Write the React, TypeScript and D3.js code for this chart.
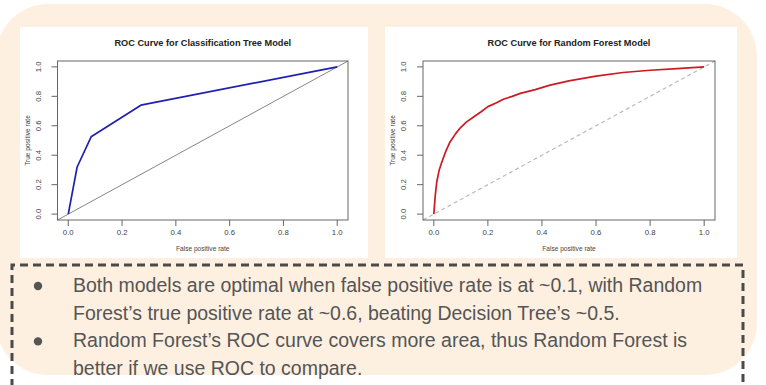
import * as d3 from "d3";

// ROC curve points
const treeFpr = [0, 0.033, 0.085, 0.27, 1.0];
const treeTpr = [0, 0.32, 0.525, 0.74, 1.0];

const forestFpr = [0, 0.005, 0.011, 0.02, 0.03, 0.045, 0.06, 0.08, 0.098, 0.12, 0.147, 0.175, 0.2, 0.23, 0.257, 0.29, 0.32, 0.375, 0.43, 0.5, 0.6, 0.7, 0.8, 0.9, 1.0];
const forestTpr = [0, 0.12, 0.22, 0.3, 0.355, 0.43, 0.49, 0.545, 0.586, 0.625, 0.66, 0.695, 0.73, 0.755, 0.78, 0.8, 0.82, 0.846, 0.876, 0.905, 0.937, 0.962, 0.977, 0.988, 1.0];

const axisTicks = [0, 0.2, 0.4, 0.6, 0.8, 1.0];

const titles = ["ROC Curve for Classification Tree Model", "ROC Curve for Random Forest Model"];
const xLabel = "False positive rate";
const yLabel = "True positive rate";

const bullets = [
  ["Both models are optimal when false positive rate is at ~0.1, with Random", "Forest\u2019s true positive rate at ~0.6, beating Decision Tree\u2019s ~0.5."],
  ["Random Forest\u2019s ROC curve covers more area, thus Random Forest is", "better if we use ROC to compare."],
];

const FONT = "'Liberation Sans', Arial, sans-serif";

type Props = {
  left: number;
  right: number;
  title: string;
  fpr: number[];
  tpr: number[];
  color: string;
  dashedDiag: boolean;
};

function RocChart({ left, right, title, fpr, tpr, color, dashedDiag }: Props) {
  const x = d3.scaleLinear().domain([-0.04, 1.04]).range([left, right]);
  const y = d3.scaleLinear().domain([-0.04, 1.04]).range([220, 61]);
  const line = d3.line<number>().x((d) => x(d)).y((_, i) => y(tpr[i]));
  const mid = (left + right) / 2;
  const yMid = (y(0) + y(1)) / 2;

  return (
    <g fontFamily={FONT} fill="#444">
      <text x={mid} y={46} textAnchor="middle" fontWeight="bold" fontSize={9.2} fill="#222">
        {title}
      </text>
      <line
        x1={x(-0.04)} y1={y(-0.04)} x2={x(1.04)} y2={y(1.04)}
        stroke={dashedDiag ? "#bbb" : "#666"}
        strokeWidth={dashedDiag ? 1.2 : 0.8}
        strokeDasharray={dashedDiag ? "4,3" : undefined}
      />
      <path d={line(fpr) ?? ""} fill="none" stroke={color} strokeWidth={1.7} strokeLinejoin="round" />
      <rect x={left} y={61} width={right - left} height={159} fill="none" stroke="#666" strokeWidth={1} />
      {axisTicks.map((t) => (
        <g key={`x${t}`}>
          <line x1={x(t)} x2={x(t)} y1={220} y2={226} stroke="#666" />
          <text x={x(t)} y={235} textAnchor="middle" fontSize={7.8}>{t.toFixed(1)}</text>
        </g>
      ))}
      {axisTicks.map((t) => (
        <g key={`y${t}`}>
          <line x1={left - 6} x2={left} y1={y(t)} y2={y(t)} stroke="#666" />
          <text transform={`translate(${left - 17},${y(t)}) rotate(-90)`} textAnchor="middle" fontSize={7.8}>
            {t.toFixed(1)}
          </text>
        </g>
      ))}
      <text x={mid} y={251} textAnchor="middle" fontSize={6.6}>{xLabel}</text>
      <text transform={`translate(${left - 28},${yMid}) rotate(-90)`} textAnchor="middle" fontSize={6.6}>
        {yLabel}
      </text>
    </g>
  );
}

export default function App() {
  let lineIdx = 0;
  return (
    <svg width={766} height={385} style={{ position: "absolute", left: 0, top: 0 }}>
      <rect width={766} height={385} fill="#fff" />
      <rect x={-4} y={4} width={761} height={371} rx={52} fill="#fdf0e1" />
      <rect x={20} y={27} width={348} height={231} fill="#fff" />
      <rect x={385} y={27} width={352} height={231} fill="#fff" />
      <RocChart left={57.5} right={348} title={titles[0]} fpr={treeFpr} tpr={treeTpr} color="#2020b0" dashedDiag={false} />
      <RocChart left={423} right={715} title={titles[1]} fpr={forestFpr} tpr={forestTpr} color="#cc1a24" dashedDiag={true} />
      <path d="M12,400 V265 H743 V400" fill="none" stroke="#4a4a4a" strokeWidth={3} strokeDasharray="8,5" />
      <g fontFamily={FONT} fontSize={19.5} fill="#555">
        {bullets.map((b, bi) =>
          b.map((ln, li) => {
            const yy = 292 + 27.7 * lineIdx++;
            return (
              <g key={`${bi}-${li}`}>
                {li === 0 && <circle cx={38} cy={yy - 6} r={4.2} fill="#555" />}
                <text x={73} y={yy}>{ln}</text>
              </g>
            );
          })
        )}
      </g>
    </svg>
  );
}
